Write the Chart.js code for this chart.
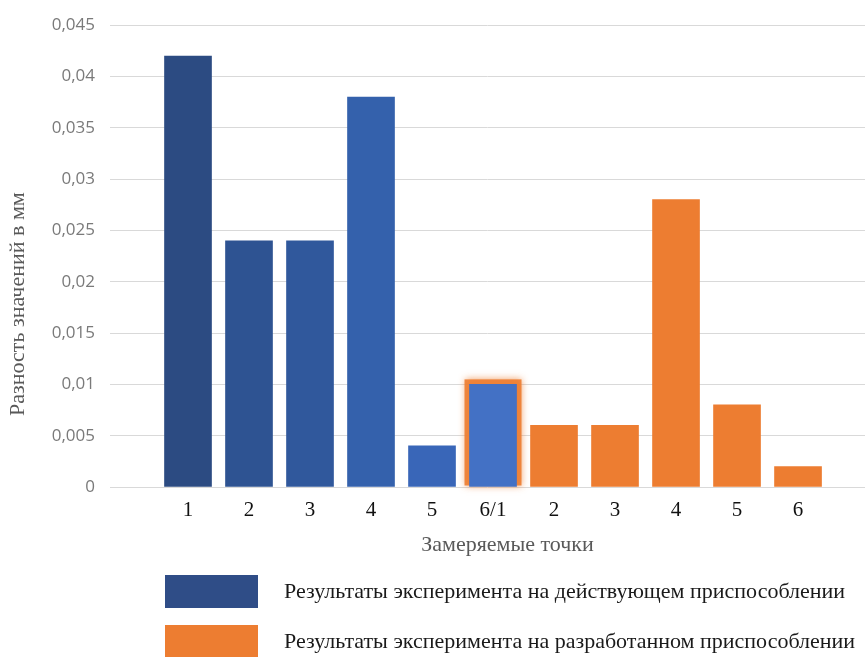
<!DOCTYPE html>
<html>
<head>
<meta charset="utf-8">
<script src="https://cdn.jsdelivr.net/npm/chart.js@4/dist/chart.umd.min.js"></script>
<style>
  html, body { margin: 0; padding: 0; background: #fff; }
  #wrap { width: 865px; height: 657px; }
</style>
</head>
<body>
<div id="wrap"><canvas id="chartPoints"></canvas></div>
<script>
// точки замера (последняя точка старого приспособления = первая нового)
var categories = ['1', '2', '3', '4', '5', '6/1', '2', '3', '4', '5', '6'];
var valuesCurrent = [0.042, 0.024, 0.024, 0.038, 0.004, 0.010];
var valuesDeveloped = [0.006, 0.006, 0.028, 0.008, 0.002];
var seriesNames = [
    'Результаты эксперимента на действующем приспособлении',
    'Результаты эксперимента на разработанном приспособлении'
];
var yMax = 0.045;
var yStep = 0.005;
var xTitle = 'Замеряемые точки';
var yTitle = 'Разность значений в мм';

var blues = ['#2c4b82', '#2e5392', '#30589c', '#3461ac', '#3966b8', '#4371c5'];
var orange = '#ed7d31';
var legendColors = ['#2f4d87', orange];
var highlightIndex = 5;

var serif = '"Liberation Serif", "Times New Roman", serif';

var dataCurrent = valuesCurrent.map(function (v, i) { return {x: i + 1, y: v}; });
var dataDeveloped = valuesDeveloped.map(function (v, i) {
    return {x: valuesCurrent.length + 1 + i, y: v};
});

// подсветка столбца 6/1, подписи осей и легенда
var extras = {
    id: 'extras',
    beforeDatasetsDraw: function (chart) {
        var el = chart.getDatasetMeta(0).data[highlightIndex];
        if (!el) return;
        var p = el.getProps(['x', 'y', 'base', 'width'], true);
        var ctx = chart.ctx;
        ctx.save();
        ctx.shadowColor = 'rgba(237,125,49,0.8)';
        ctx.shadowBlur = 7;
        ctx.fillStyle = 'rgba(237,125,49,0.9)';
        ctx.fillRect(p.x - p.width / 2 - 5, p.y - 5, p.width + 10, p.base - p.y + 4);
        ctx.restore();
    },
    afterDraw: function (chart) {
        var ctx = chart.ctx;
        var a = chart.chartArea;
        ctx.save();
        // подпись оси X
        ctx.fillStyle = '#595959';
        ctx.font = '22px ' + serif;
        ctx.textAlign = 'center';
        ctx.textBaseline = 'middle';
        ctx.fillText(xTitle, (a.left + a.right) / 2 + 20, a.bottom + 58);
        // подпись оси Y
        ctx.save();
        ctx.translate(18, (a.top + a.bottom) / 2 + 48);
        ctx.rotate(-Math.PI / 2);
        ctx.fillText(yTitle, 0, 0);
        ctx.restore();
        // легенда
        ctx.textAlign = 'left';
        ctx.font = '22px ' + serif;
        for (var i = 0; i < seriesNames.length; i++) {
            var top = a.bottom + 88 + i * 50;
            ctx.fillStyle = legendColors[i];
            ctx.fillRect(165, top, 93, 33);
            ctx.fillStyle = '#1a1a1a';
            ctx.fillText(seriesNames[i], 284, top + 17);
        }
        ctx.restore();
    }
};

var ctx = document.getElementById('chartPoints').getContext('2d');
var chart = new Chart(ctx, {
    type: 'bar',
    data: {
        datasets: [{
            label: seriesNames[0],
            data: dataCurrent,
            backgroundColor: blues,
            barThickness: 47,
            grouped: false
        }, {
            label: seriesNames[1],
            data: dataDeveloped,
            backgroundColor: orange,
            barThickness: 47,
            grouped: false
        }]
    },
    plugins: [extras],
    options: {
        responsive: true,
        maintainAspectRatio: false,
        animation: false,
        layout: { padding: { top: 19, right: 0, left: 0, bottom: 130 } },
        plugins: {
            legend: { display: false },
            tooltip: { enabled: false }
        },
        scales: {
            x: {
                type: 'linear',
                offset: false,
                min: -0.2787,
                max: 12.098,
                grid: { display: false },
                border: { display: false },
                afterBuildTicks: function (scale) {
                    scale.ticks = categories.map(function (c, i) { return {value: i + 1}; });
                },
                afterFit: function (scale) { scale.height = 40; },
                ticks: {
                    autoSkip: false,
                    maxRotation: 0,
                    padding: 3,
                    color: '#111111',
                    font: { family: serif, size: 21 },
                    callback: function (v) { return categories[v - 1]; }
                }
            },
            y: {
                min: 0,
                max: yMax,
                afterFit: function (scale) { scale.width = 110; },
                grid: { color: '#d9d9d9', drawTicks: false, lineWidth: 1 },
                border: { display: false },
                ticks: {
                    stepSize: yStep,
                    padding: 15,
                    color: '#7a7a7a',
                    font: { family: '"Open Sans", sans-serif', size: 17 },
                    callback: function (v) {
                        return Number(v.toFixed(3)).toString().replace('.', ',');
                    }
                }
            }
        }
    }
});
</script>
</body>
</html>
